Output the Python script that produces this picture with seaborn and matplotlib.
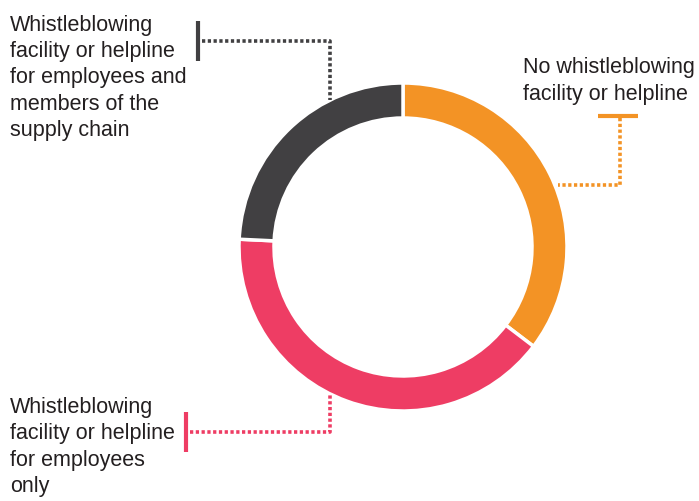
import matplotlib
matplotlib.use("Agg")
import matplotlib.pyplot as plt
import seaborn as sns

categories = ["No whistleblowing\nfacility or helpline",
              "Whistleblowing\nfacility or helpline\nfor employees\nonly",
              "Whistleblowing\nfacility or helpline\nfor employees and\nmembers of the\nsupply chain"]
values = [35, 40, 24]
colors = ["#F39325", "#EE3D64", "#414042"]

sns.set_theme(style="white")
plt.rcParams["font.family"] = ["Liberation Sans", "DejaVu Sans"]

W, H = 699, 502
fig = plt.figure(figsize=(W / 100, H / 100), dpi=100)
ax = fig.add_axes([0, 0, 1, 1])

cx, cy, R, width = 403, H - 248, 164, 35
ax.pie(values, colors=colors, startangle=90, counterclock=False,
       center=(cx, cy), radius=R, frame=True,
       wedgeprops=dict(width=width, edgecolor="white", linewidth=2.5))
ax.set_xlim(0, W)
ax.set_ylim(0, H)
ax.set_aspect("equal")
ax.axis("off")

def Y(y):
    return H - y

dot = dict(linestyle=(0, (0.9, 0.7)), linewidth=2.6, solid_capstyle="butt")

# dark leader
ax.plot([198, 198], [Y(22), Y(62)], color=colors[2], lw=3, solid_capstyle="butt")
ax.plot([202, 330, 330], [Y(42), Y(42), Y(101)], color=colors[2], **dot)
# red leader
ax.plot([186, 186], [Y(413), Y(453)], color=colors[1], lw=3, solid_capstyle="butt")
ax.plot([190, 330, 330], [Y(433), Y(433), Y(395)], color=colors[1], **dot)
# orange leader
ax.plot([598, 638], [Y(117), Y(117)], color=colors[0], lw=3, solid_capstyle="butt")
ax.plot([620, 620, 558], [Y(119), Y(186), Y(186)], color=colors[0], **dot)

txt = dict(fontsize=15.5, color="#231F20", va="baseline", ha="left")
step = 26.4

def label(text, x, y0):
    for i, line in enumerate(text.split("\n")):
        ax.text(x, Y(y0 + i * step), line, **txt)

label(categories[2], 10, 30.5)
label(categories[1], 10, 413)
label(categories[0], 523, 73.3)

fig.savefig("out.png", dpi=100)
